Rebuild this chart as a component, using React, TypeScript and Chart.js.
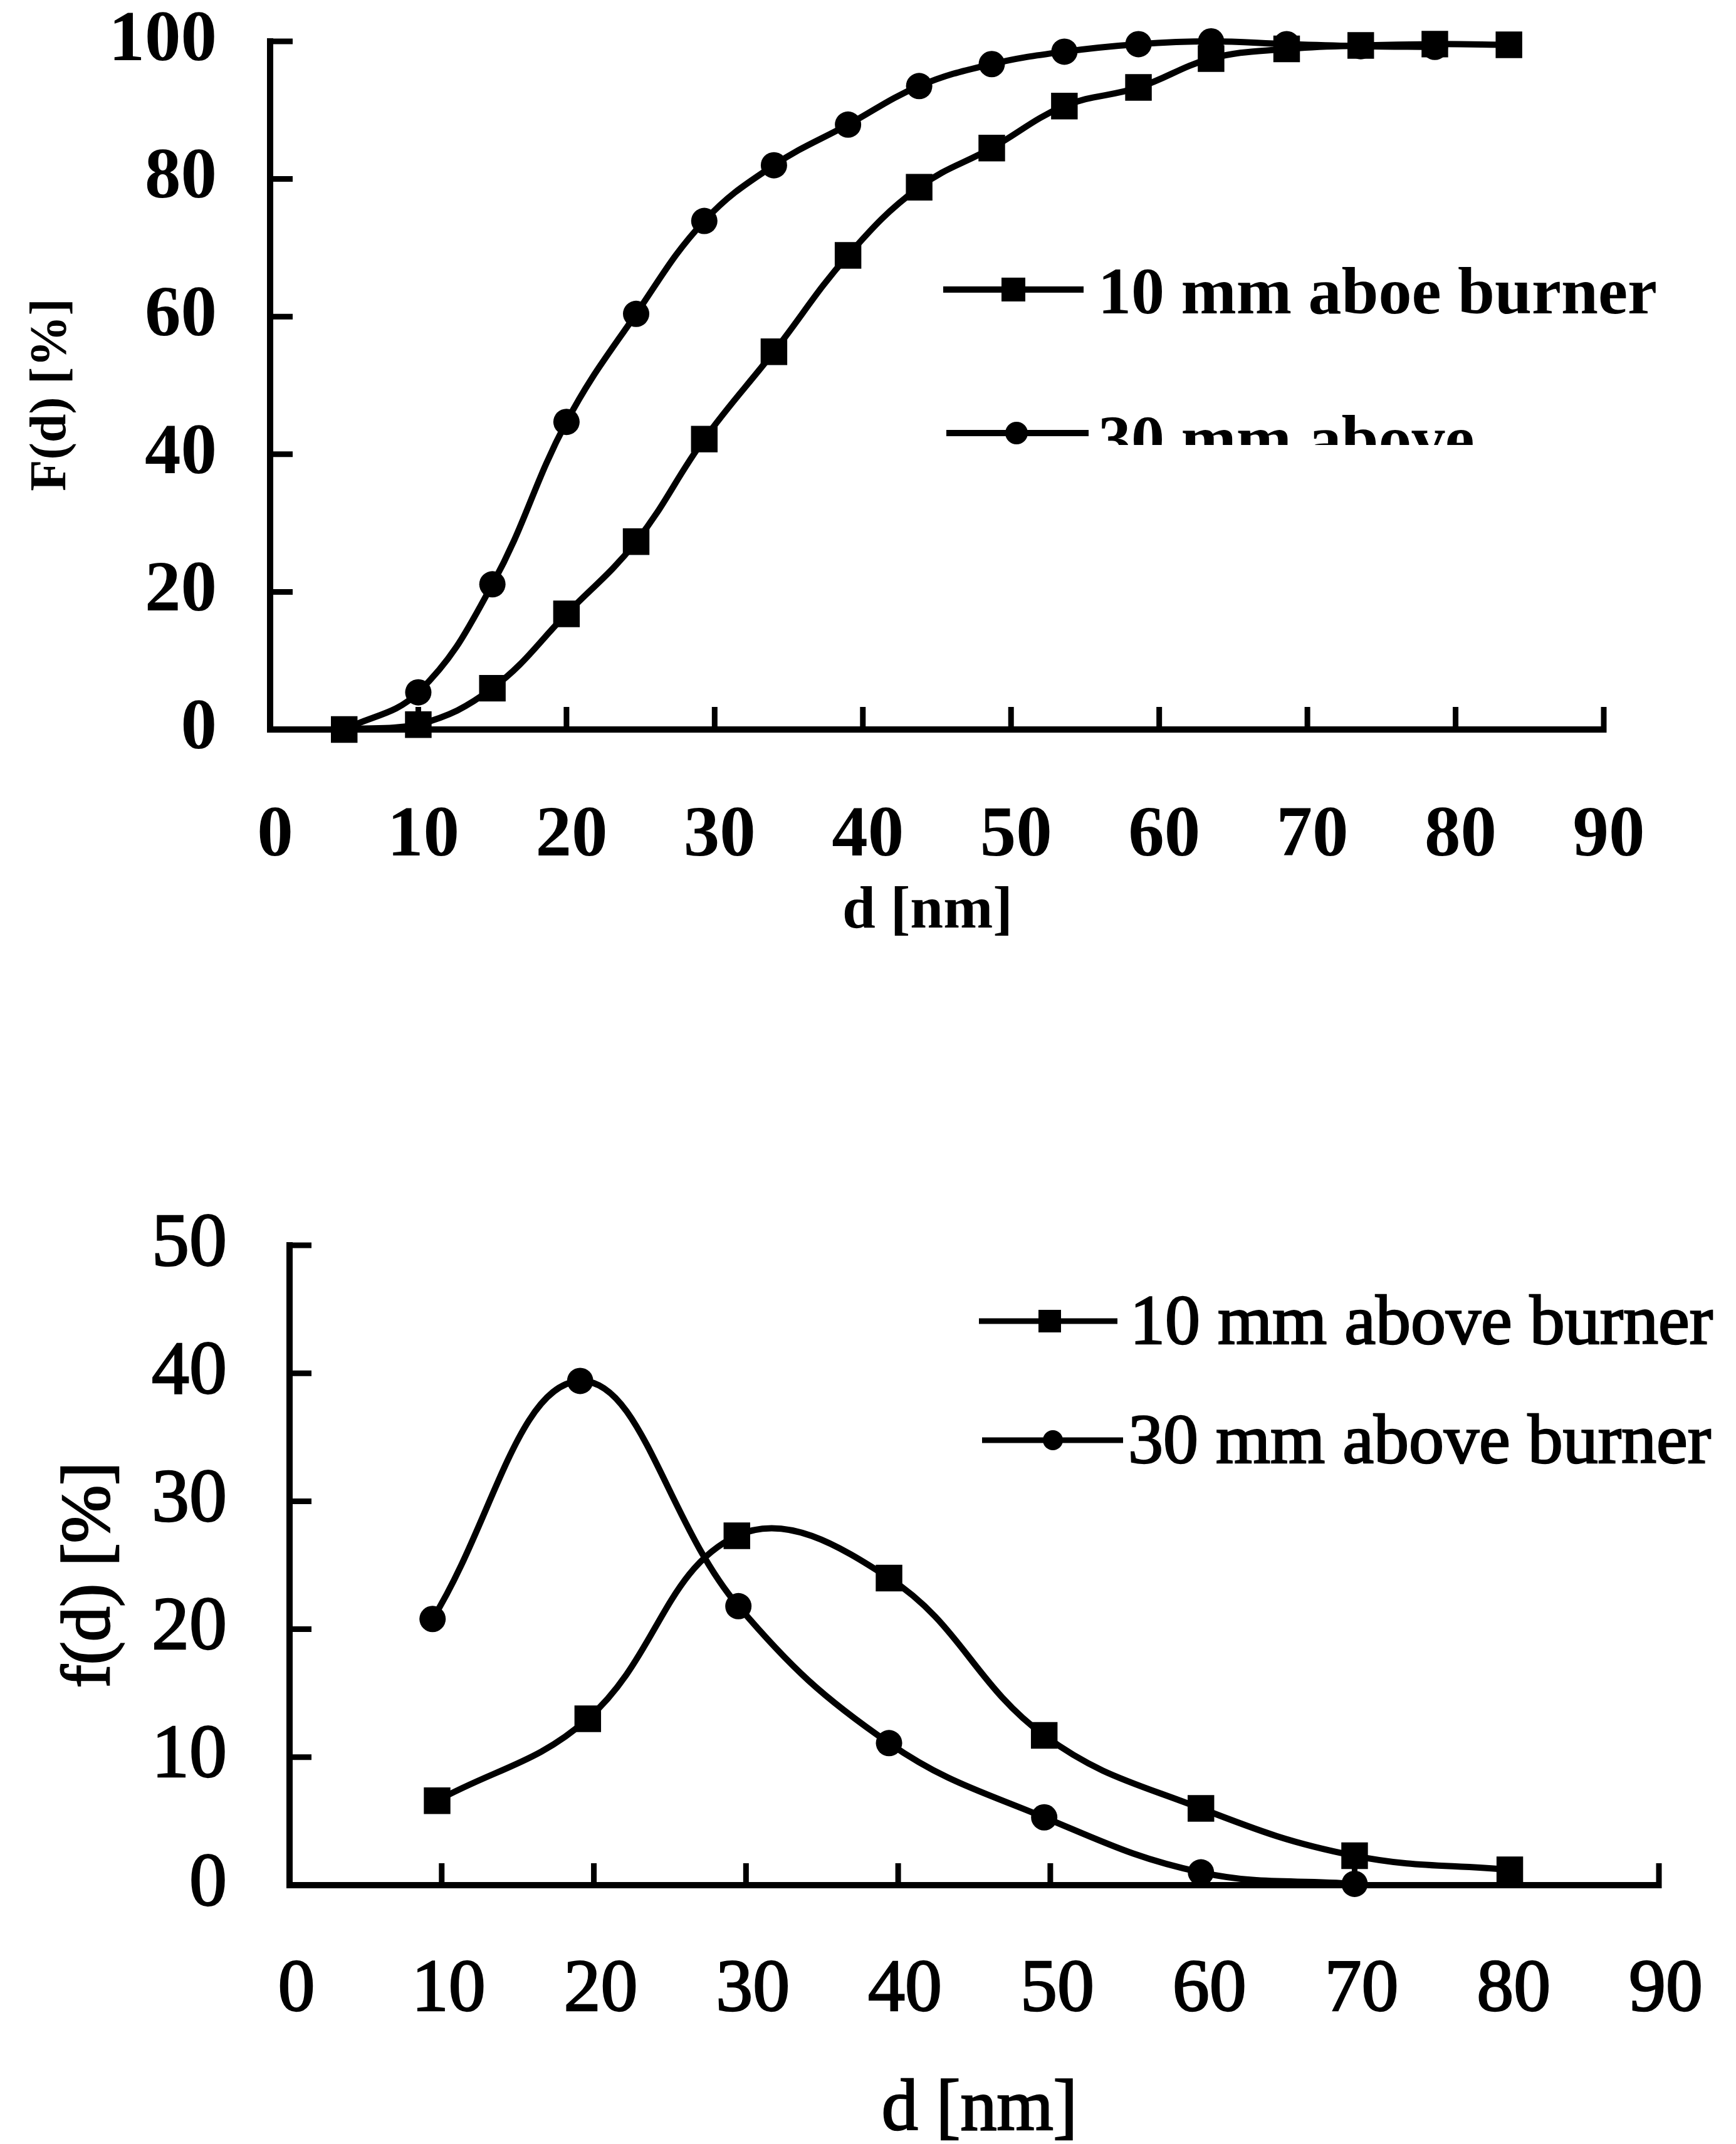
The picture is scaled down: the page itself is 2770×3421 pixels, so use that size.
import React, { useEffect, useRef } from "react";
import { Chart, registerables } from "chart.js";

Chart.register(...registerables);

const SERIF = "'Liberation Serif', 'Times New Roman', Times, serif";

// ---------- Top panel: cumulative distribution F(d) ----------
const topD = [5, 10, 15, 20, 24.7, 29.3, 34, 39, 43.8, 48.7, 53.6, 58.6, 63.5, 68.6, 73.6, 78.6, 83.6];
const topF10 = [0, 0.7, 6, 16.8, 27.3, 42.2, 54.9, 68.9, 78.8, 84.5, 90.6, 93.3, 97.5, 98.9, 99.4, 99.6, 99.5];
const topF30 = [0, 5.4, 21.1, 44.7, 60.4, 73.9, 82, 87.9, 93.5, 96.7, 98.5, 99.6, 100, 99.6, 99.3, 99.2];
const topYTicks = [0, 20, 40, 60, 80, 100];
const topLegend = ["10 mm aboe burner", "30 mm above"];
const topYTitle = "F(d) [%]";

// ---------- Bottom panel: distribution f(d) ----------
const botD10 = [9.7, 19.6, 29.4, 39.4, 49.6, 59.9, 70, 80.2];
const botF10 = [6.6, 13.0, 27.3, 24.0, 11.7, 6.0, 2.3, 1.2];
const botD30 = [9.4, 19.1, 29.5, 39.4, 49.6, 59.9, 70];
const botF30 = [20.8, 39.4, 21.8, 11.1, 5.3, 1.0, 0.1];
const botYTicks = [0, 10, 20, 30, 40, 50];
const botLegend = ["10 mm above burner", "30 mm above burner"];
const botYTitle = "f(d) [%]";

const xTicks = [0, 10, 20, 30, 40, 50, 60, 70, 80, 90];
const xTitle = "d [nm]";

type Font = { size: number; weight: string; stroke: number };
type Panel = {
  top: number;
  height: number;
  area: { left: number; top: number; right: number; bottom: number };
  yMax: number;
  yTicks: number[];
  series: { xs: number[]; ys: number[]; style: "rect" | "circle"; r: number }[];
  tickFontY: Font;
  tickFontX: Font;
  padY: number;
  padX: number;
  labelOffset: number;
  lineW: number;
  axisW: number;
  tickLen: number;
  legend: {
    text: string;
    style: "rect" | "circle";
    x1: number;
    x2: number;
    y: number;
    mx: number;
    ms: number;
    tx: number;
    ty: number;
    clipBottom?: number;
  }[];
  legendFont: Font;
  legendLineW: number;
  xTitle: { text: string; x: number; y: number; font: Font };
  yTitle: { text: string; x: number; y: number; font: Font };
};

const topPanel: Panel = {
  top: 0,
  height: 1560,
  area: { left: 431, top: 66, right: 2559, bottom: 1164 },
  yMax: 100,
  yTicks: topYTicks,
  series: [
    { xs: topD, ys: topF10, style: "rect", r: 30 },
    { xs: topD.slice(0, topF30.length), ys: topF30, style: "circle", r: 21 },
  ],
  tickFontY: { size: 115, weight: "bold", stroke: 0 },
  tickFontX: { size: 115, weight: "bold", stroke: 0 },
  padY: 85,
  padX: 102,
  labelOffset: 8,
  lineW: 10,
  axisW: 10,
  tickLen: 36,
  legend: [
    { text: topLegend[0], style: "rect", x1: 1505, x2: 1729, y: 462, mx: 1617, ms: 19, tx: 1752, ty: 500 },
    { text: topLegend[1], style: "circle", x1: 1510, x2: 1737, y: 691, mx: 1622, ms: 18, tx: 1752, ty: 736, clipBottom: 710 },
  ],
  legendFont: { size: 106, weight: "bold", stroke: 0 },
  legendLineW: 10,
  xTitle: { text: xTitle, x: 1480, y: 1480, font: { size: 95, weight: "bold", stroke: 0 } },
  yTitle: { text: topYTitle, x: 83, y: 630, font: { size: 82, weight: "bold", stroke: 0 } },
};

const botPanel: Panel = {
  top: 1560,
  height: 1861,
  area: { left: 462, top: 427, right: 2647, bottom: 1448 },
  yMax: 50,
  yTicks: botYTicks,
  series: [
    { xs: botD10, ys: botF10, style: "rect", r: 30 },
    { xs: botD30, ys: botF30, style: "circle", r: 21 },
  ],
  tickFontY: { size: 120, weight: "normal", stroke: 2.5 },
  tickFontX: { size: 118, weight: "normal", stroke: 2.5 },
  padY: 100,
  padX: 98,
  labelOffset: 11,
  lineW: 10,
  axisW: 10,
  tickLen: 35,
  legend: [
    { text: botLegend[0], style: "rect", x1: 1562, x2: 1783, y: 548, mx: 1675, ms: 18, tx: 1803, ty: 584 },
    { text: botLegend[1], style: "circle", x1: 1567, x2: 1792, y: 738, mx: 1680, ms: 16, tx: 1800, ty: 774 },
  ],
  legendFont: { size: 112, weight: "normal", stroke: 2.5 },
  legendLineW: 9,
  xTitle: { text: xTitle, x: 1563, y: 1838, font: { size: 116, weight: "normal", stroke: 2.5 } },
  yTitle: { text: botYTitle, x: 145, y: 953, font: { size: 111, weight: "normal", stroke: 2.5 } },
};

function fontStr(f: Font) {
  return `${f.weight} ${f.size}px ${SERIF}`;
}

function drawText(ctx: CanvasRenderingContext2D, text: string, x: number, y: number, f: Font) {
  ctx.font = fontStr(f);
  ctx.fillText(text, x, y);
  if (f.stroke > 0) {
    ctx.lineWidth = f.stroke;
    ctx.strokeText(text, x, y);
  }
}

function drawMarker(ctx: CanvasRenderingContext2D, style: string, x: number, y: number, s: number) {
  ctx.beginPath();
  if (style === "rect") {
    ctx.rect(x - s, y - s, 2 * s, 2 * s);
  } else {
    ctx.arc(x, y, s, 0, Math.PI * 2);
  }
  ctx.fill();
}

function decor(p: Panel) {
  return {
    id: "decor",
    beforeDatasetsDraw(chart: any) {
      const ctx: CanvasRenderingContext2D = chart.ctx;
      const a = chart.chartArea;
      const xs = chart.scales.x;
      const ys = chart.scales.y;
      ctx.save();
      ctx.strokeStyle = "#000";
      ctx.lineWidth = p.axisW * 0.9;
      for (const t of ys.ticks) {
        if (t.value <= 0) continue;
        const py = ys.getPixelForValue(t.value);
        ctx.beginPath();
        ctx.moveTo(a.left - p.axisW / 2, py);
        ctx.lineTo(a.left + p.tickLen, py);
        ctx.stroke();
      }
      for (const t of xs.ticks) {
        if (t.value <= 0) continue;
        const px = xs.getPixelForValue(t.value);
        ctx.beginPath();
        ctx.moveTo(px, a.bottom + p.axisW / 2);
        ctx.lineTo(px, a.bottom - p.tickLen);
        ctx.stroke();
      }
      ctx.restore();
    },
    afterDraw(chart: any) {
      const ctx: CanvasRenderingContext2D = chart.ctx;
      ctx.save();
      ctx.fillStyle = "#000";
      ctx.strokeStyle = "#000";
      for (const it of p.legend) {
        ctx.save();
        if (it.clipBottom !== undefined) {
          ctx.beginPath();
          ctx.rect(0, 0, chart.width, it.clipBottom);
          ctx.clip();
        }
        ctx.lineWidth = p.legendLineW;
        ctx.beginPath();
        ctx.moveTo(it.x1, it.y);
        ctx.lineTo(it.x2, it.y);
        ctx.stroke();
        drawMarker(ctx, it.style, it.mx, it.y, it.ms);
        ctx.textAlign = "left";
        ctx.textBaseline = "alphabetic";
        drawText(ctx, it.text, it.tx, it.ty, p.legendFont);
        ctx.restore();
      }
      const xt = p.xTitle;
      ctx.textAlign = "center";
      ctx.textBaseline = "alphabetic";
      drawText(ctx, xt.text, xt.x, xt.y, xt.font);
      const yt = p.yTitle;
      ctx.save();
      ctx.translate(yt.x, yt.y);
      ctx.rotate(-Math.PI / 2);
      ctx.textAlign = "center";
      ctx.textBaseline = "middle";
      drawText(ctx, yt.text, 0, 0, yt.font);
      ctx.restore();
      ctx.restore();
    },
  };
}

function zeroPad(sc: any) {
  sc.paddingTop = 0;
  sc.paddingBottom = 0;
  sc.paddingLeft = 0;
  sc.paddingRight = 0;
}

function PanelChart({ p }: { p: Panel }) {
  const ref = useRef<HTMLCanvasElement | null>(null);
  useEffect(() => {
    if (!ref.current) return;
    const a = p.area;
    const chart = new Chart(ref.current, {
      type: "line",
      data: {
        datasets: p.series.map((s) => ({
          data: s.xs.map((x, i) => ({ x, y: s.ys[i] })),
          borderColor: "#000",
          backgroundColor: "#000",
          borderWidth: p.lineW,
          pointStyle: s.style,
          pointRadius: s.r,
          pointBackgroundColor: "#000",
          pointBorderColor: "#000",
          pointBorderWidth: 0,
          tension: 0.4,
          fill: false,
          clip: false as any,
        })),
      },
      options: {
        responsive: false,
        animation: false,
        devicePixelRatio: 1,
        events: [],
        layout: {
          autoPadding: false,
          padding: { left: 0, top: a.top, right: 2770 - a.right, bottom: 0 },
        } as any,
        plugins: { legend: { display: false }, tooltip: { enabled: false }, title: { display: false } },
        scales: {
          x: {
            type: "linear",
            min: 0,
            max: 90,
            afterBuildTicks: (sc: any) => {
              sc.ticks = xTicks.map((v) => ({ value: v }));
            },
            afterFit: (sc: any) => {
              sc.height = p.height - a.bottom;
              zeroPad(sc);
            },
            grid: { display: false, drawTicks: false },
            border: { display: true, color: "#000", width: p.axisW },
            ticks: {
              color: "#000",
              padding: p.padX,
              labelOffset: p.labelOffset,
              maxRotation: 0,
              autoSkip: false,
              textStrokeColor: "#000",
              textStrokeWidth: p.tickFontX.stroke,
              font: { family: SERIF, size: p.tickFontX.size, weight: p.tickFontX.weight as any },
            } as any,
          },
          y: {
            type: "linear",
            min: 0,
            max: p.yMax,
            afterBuildTicks: (sc: any) => {
              sc.ticks = p.yTicks.map((v) => ({ value: v }));
            },
            afterFit: (sc: any) => {
              sc.width = a.left;
              zeroPad(sc);
            },
            grid: { display: false, drawTicks: false },
            border: { display: true, color: "#000", width: p.axisW },
            ticks: {
              color: "#000",
              padding: p.padY,
              autoSkip: false,
              textStrokeColor: "#000",
              textStrokeWidth: p.tickFontY.stroke,
              font: { family: SERIF, size: p.tickFontY.size, weight: p.tickFontY.weight as any },
            } as any,
          },
        },
      },
      plugins: [decor(p) as any],
    });
    return () => chart.destroy();
  }, [p]);
  return (
    <canvas
      ref={ref}
      width={2770}
      height={p.height}
      style={{ position: "absolute", left: 0, top: p.top, display: "block" }}
    />
  );
}

export default function App() {
  return (
    <div style={{ position: "absolute", left: 0, top: 0, width: 2770, height: 3421, background: "#fff" }}>
      <PanelChart p={topPanel} />
      <PanelChart p={botPanel} />
    </div>
  );
}
